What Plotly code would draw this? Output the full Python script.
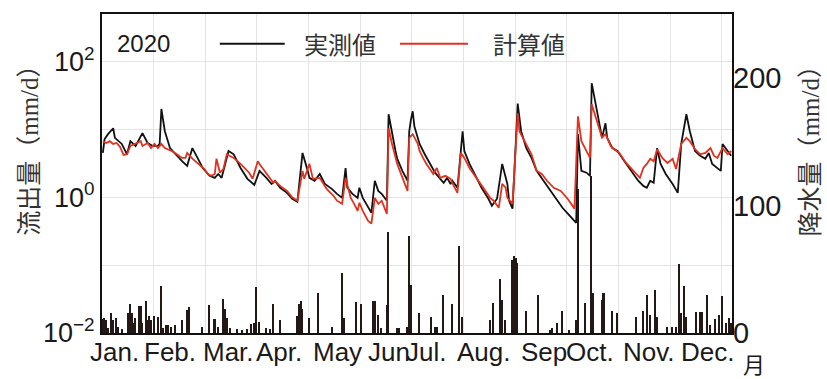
import plotly.graph_objects as go

# Daily runoff (mm/d), day of year 0..365 of 2020
obs_day = [0, 1, 3, 6, 7, 9, 11, 14, 16, 19, 23, 26, 29, 32, 33, 34, 36, 39, 43, 46,
           49, 52, 55, 58, 62, 65, 67, 69, 73, 76, 80, 84, 88, 91, 95, 98, 100, 103, 107, 110,
           113, 116, 119, 120, 123, 126, 129, 133, 136, 139, 141, 142, 145, 148, 149, 151, 153, 156, 158, 160,
           162, 165, 166, 168, 170, 171, 174, 177, 178, 179, 180, 181, 183, 184, 187, 190, 193, 196, 198, 200,
           202, 203, 206, 209, 210, 213, 216, 220, 224, 226, 229, 231, 232, 235, 236, 238, 241, 243, 246, 249,
           252, 256, 260, 264, 267, 271, 275, 276, 278, 281, 283, 284, 287, 290, 292, 293, 296, 299, 303, 307,
           311, 314, 316, 318, 320, 322, 324, 327, 331, 334, 336, 339, 341, 344, 347, 350, 352, 354, 359, 360,
           363, 365]
obs_q = [4.5, 7.2, 8.5, 10.4, 7.5, 6.7, 6.1, 4.3, 6.7, 5.7, 8.8, 6.3, 5.7, 5.7, 6.1, 20, 9.4, 5.3, 4.1, 3.4,
         2.9, 5.3, 3.8, 2.7, 2.07, 1.93, 2.2, 1.93, 4.8, 4.3, 2.7, 1.87, 1.52, 2.45, 1.93, 1.57, 1.75, 1.38, 1.16, 0.95,
         0.86, 4.5, 2.45, 1.93, 1.75, 2.2, 1.57, 1.33, 1.12, 0.98, 2.7, 1.38, 1.12, 0.98, 1.38, 0.98, 0.80, 0.59, 1.75, 1.24,
         1.12, 0.89, 16.7, 8.5, 4.8, 3.7, 2.45, 1.75, 9.4, 14, 18.5, 11, 7.5, 6.1, 4.3, 3.1, 2.3, 1.87, 1.63, 1.93,
         1.57, 1.75, 1.38, 9.4, 4.8, 3.1, 2.2, 1.38, 0.95, 0.75, 0.95, 2.07, 3.1, 1.57, 0.89, 0.68, 24, 9.4, 5.3, 3.8,
         2.45, 1.75, 1.24, 0.89, 0.70, 0.54, 0.42, 8.5, 2.45, 2.3, 2.07, 48, 20, 7.5, 12.3, 7.5, 5.3, 4.8, 3.4, 2.45,
         1.75, 1.47, 1.38, 1.75, 1.63, 5.3, 3.1, 2.2, 1.57, 1.16, 6.1, 16.7, 9.4, 4.8, 4.1, 3.7, 4.5, 3.1, 2.45, 6.1,
         4.8, 4.1]

sim_day = [0, 2, 4, 6, 8, 10, 12, 14, 16, 19, 22, 23, 26, 28, 30, 32, 34, 36, 38, 40,
           43, 46, 48, 49, 52, 55, 56, 59, 61, 63, 65, 66, 68, 70, 72, 76, 80, 84, 85, 87,
           90, 91, 95, 99, 100, 103, 107, 110, 113, 116, 117, 120, 122, 126, 130, 134, 136, 139, 141, 144,
           146, 148, 149, 151, 154, 156, 158, 160, 162, 165, 166, 168, 171, 174, 177, 178, 180, 183, 184, 186,
           188, 192, 194, 196, 199, 202, 203, 206, 208, 210, 213, 217, 221, 225, 227, 230, 232, 234, 235, 238,
           241, 242, 245, 249, 252, 255, 258, 262, 266, 270, 274, 276, 278, 281, 283, 284, 287, 290, 292, 295,
           297, 300, 304, 308, 312, 314, 316, 318, 320, 322, 325, 328, 331, 333, 336, 339, 341, 344, 347, 350,
           353, 355, 357, 360, 363, 365]
sim_q = [6.7, 6.3, 6.7, 6.1, 6.3, 5.5, 4.2, 4.3, 5.7, 6.1, 6.7, 5.7, 6.3, 5.3, 6.1, 5.3, 6.1, 5.3, 5.1, 4.8,
         4.3, 3.8, 3.8, 4.5, 3.7, 3.2, 3.1, 2.6, 2.2, 2.07, 2.2, 3.7, 2.3, 2.6, 4.3, 3.8, 3.1, 2.45, 2.3, 1.87,
         3.4, 3.1, 2.2, 1.63, 1.75, 1.47, 1.24, 1.0, 0.89, 2.45, 1.87, 3.1, 1.87, 1.93, 1.33, 1.05, 0.89, 0.80, 1.93, 0.98,
         0.80, 0.63, 0.83, 0.63, 0.45, 0.41, 0.98, 0.80, 0.89, 0.57, 10.4, 6.1, 3.1, 1.93, 1.24, 7.5, 8.5, 6.1, 4.8, 3.8,
         3.1, 2.2, 2.7, 1.93, 2.07, 1.87, 1.63, 1.16, 4.5, 3.8, 2.7, 1.93, 1.38, 0.98, 0.89, 0.70, 1.57, 1.38, 0.98, 0.80,
         17.3, 9.4, 6.7, 4.3, 2.45, 2.2, 1.75, 1.38, 1.24, 0.95, 0.68, 15.6, 6.7, 4.8, 3.8, 23.4, 13.2, 7.5, 8.5, 5.7,
         5.1, 4.5, 3.2, 2.45, 1.93, 2.7, 3.1, 3.7, 3.4, 5.1, 3.8, 3.2, 3.7, 2.6, 6.1, 7.5, 6.7, 5.1, 4.3, 4.5,
         5.3, 4.1, 3.8, 5.3, 4.3, 4.8]

# Daily precipitation (mm/d); days not listed had no rain
rain_day = [0, 1, 2, 3, 5, 6, 8, 9, 11, 15, 16, 17, 18, 19, 21, 22, 23, 25, 26, 27,
            28, 30, 32, 34, 35, 37, 38, 40, 42, 46, 49, 50, 58, 62, 65, 67, 70, 71, 72, 74,
            78, 81, 84, 86, 88, 89, 91, 95, 97, 99, 103, 113, 114, 115, 116, 120, 125, 133, 139, 140,
            147, 150, 157, 158, 160, 162, 165, 166, 171, 172, 177, 178, 179, 184, 191, 193, 194, 198, 203, 207,
            209, 225, 227, 231, 232, 234, 238, 239, 240, 241, 246, 253, 260, 261, 264, 267, 271, 275, 276, 280,
            284, 285, 290, 291, 296, 299, 310, 314, 316, 318, 321, 322, 328, 331, 333, 335, 336, 338, 339, 345,
            347, 348, 351, 353, 356, 358, 360, 362, 364, 365]
rain_mm = [11, 12, 10, 4, 15.6, 10, 12, 5, 3, 15.6, 23, 15.6, 8, 12, 20.8, 21, 8, 25, 10, 13,
           10, 13, 12.5, 37, 4, 6.5, 6.5, 5, 6.5, 10, 18, 20, 5, 22, 11, 5, 27, 19, 12, 4,
           3, 2.5, 3, 7, 8, 36, 8.5, 4, 3, 22.6, 10, 13, 23, 25, 19, 12, 31, 5, 47, 12,
           24, 22.6, 25, 25, 14, 4, 22, 79, 3.6, 3.6, 5, 76, 38, 16, 12.5, 4.8, 4.8, 30, 22.6, 68.5,
           12.5, 10, 23.4, 42, 25.7, 10, 57, 60, 59, 55, 17, 29.6, 2.3, 4, 7.8, 17, 2, 10, 113, 23.4,
           123, 31, 25.7, 31, 17, 16, 12.5, 17, 30, 14, 34, 12.5, 4.8, 4.8, 4.8, 53.7, 15.6, 36.6, 12.5, 16.6,
           16.6, 16.6, 29.6, 6.2, 10.9, 14, 28.8, 8, 12, 8]

month_labels = ["Jan.", "Feb.", "Mar.", "Apr.", "May", "Jun", "Jul.", "Aug.", "Sep", "Oct.", "Nov.", "Dec."]
month_pos = [7.0, 39.5, 73.2, 102.8, 137.1, 166.7, 188.2, 221.9, 256.8, 283.5, 317.8, 351.5]
grid_days = [30, 60, 90, 120, 150, 180, 210, 240, 270, 300, 330, 360]

LATIN = "Liberation Sans, Arial, sans-serif"
CJK = "Noto Sans CJK JP, sans-serif"
INK = "#1a1a1a"
GRID = "#e4e4e4"

fig = go.Figure()
fig.add_trace(go.Scatter(x=[d + 0.5 for d in obs_day], y=obs_q, mode="lines",
                         line=dict(color="#111111", width=1.8), name="実測値"))
fig.add_trace(go.Scatter(x=[d + 0.5 for d in sim_day], y=sim_q, mode="lines",
                         line=dict(color="#e0321f", width=1.8), name="計算値"))
fig.add_trace(go.Bar(x=[d + 0.5 for d in rain_day], y=rain_mm, yaxis="y2",
                     marker=dict(color="#231815", line=dict(width=0)), width=0.9, name="降水量"))

fig.update_layout(
    width=827, height=379,
    margin=dict(l=102, r=95, t=12, b=46),
    plot_bgcolor="white", paper_bgcolor="white",
    showlegend=False, bargap=0,
    xaxis=dict(range=[0, 366], showticklabels=False, ticks="",
               showgrid=False, zeroline=False,
               minor=dict(tickvals=grid_days, showgrid=True, gridcolor=GRID, gridwidth=1, ticks=""),
               showline=True, linecolor="#111", linewidth=2, mirror=True),
    yaxis=dict(type="log", range=[-2, 2.7],
               tickvals=[0.01, 1, 100],
               ticktext=["10<sup>−2</sup>", "10<sup>0</sup>", "10<sup>2</sup>"],
               ticks="", showgrid=True, gridcolor=GRID, gridwidth=1, zeroline=False,
               minor=dict(tickvals=[0.1, 10], showgrid=True, gridcolor=GRID, gridwidth=1, ticks=""),
               showline=True, linecolor="#111", linewidth=2, mirror=True,
               tickfont=dict(family=LATIN, size=27, color=INK)),
    yaxis2=dict(overlaying="y", side="right", range=[0, 250], tickvals=[0, 100, 200],
                ticks="", showgrid=False, zeroline=False, showline=False,
                tickfont=dict(family=LATIN, size=29, color=INK)),
)

# Month names under the day axis
for lab, pos in zip(month_labels, month_pos):
    fig.add_annotation(x=pos, y=-0.058, xref="x", yref="paper", text=lab, showarrow=False,
                       xanchor="center", yanchor="middle",
                       font=dict(family=LATIN, size=26, color=INK))

fig.add_annotation(x=1.035, y=-0.094, xref="paper", yref="paper", text="月", showarrow=False,
                   xanchor="center", yanchor="middle", font=dict(family=CJK, size=22, color=INK))

# Axis titles, unit set in a serif face
serif = "<span style=\"font-family:'Liberation Serif'\">mm/d</span>"
fig.add_annotation(x=-0.119, y=0.59, xref="paper", yref="paper", text="流出量（" + serif + "）",
                   textangle=-90, showarrow=False, xanchor="center", yanchor="middle",
                   font=dict(family=CJK, size=25, color="#333"))
fig.add_annotation(x=1.12, y=0.59, xref="paper", yref="paper", text="降水量（" + serif + "）",
                   textangle=-90, showarrow=False, xanchor="center", yanchor="middle",
                   font=dict(family=CJK, size=25, color="#333"))

# Year label and legend keys
ly = 0.9065
fig.add_annotation(x=0.0206, y=ly, xref="paper", yref="paper", text="2020", showarrow=False,
                   xanchor="left", yanchor="middle", font=dict(family=LATIN, size=24, color=INK))
fig.add_shape(type="line", xref="paper", yref="paper", x0=0.187, x1=0.290, y0=ly, y1=ly,
              line=dict(color="#111111", width=2))
fig.add_annotation(x=0.317, y=ly, xref="paper", yref="paper", text="実測値", showarrow=False,
                   xanchor="left", yanchor="middle", font=dict(family=CJK, size=24, color="#333"))
fig.add_shape(type="line", xref="paper", yref="paper", x0=0.473, x1=0.581, y0=ly, y1=ly,
              line=dict(color="#e0321f", width=2))
fig.add_annotation(x=0.617, y=ly, xref="paper", yref="paper", text="計算値", showarrow=False,
                   xanchor="left", yanchor="middle", font=dict(family=CJK, size=24, color="#333"))

fig.write_html("out.html")
